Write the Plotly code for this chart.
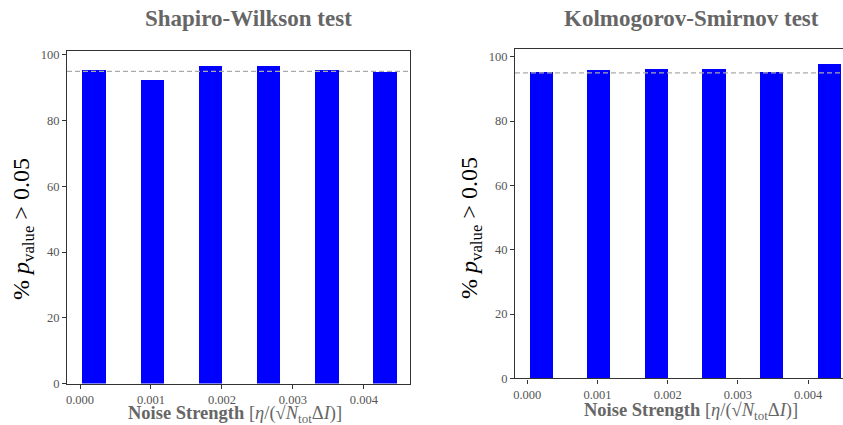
import plotly.graph_objects as go

# Noise strengths at which the normality tests were run
noise = [0.0002, 0.00102, 0.00184, 0.00266, 0.00348, 0.0043]
# Percentage of runs with p-value above 0.05
shapiro_pct = [95.5, 92.5, 96.5, 96.5, 95.5, 94.7]
kolmogorov_pct = [95.4, 96.0, 96.3, 96.3, 95.4, 97.6]
threshold = 95
xticks = [0.000, 0.001, 0.002, 0.003, 0.004]
xtick_text = ["0.000", "0.001", "0.002", "0.003", "0.004"]
yticks = [0, 20, 40, 60, 80, 100]

BAR_W = 0.00033
SERIF = "Liberation Serif, Times New Roman, serif"
GRAY = "#666666"

fig = go.Figure()
fig.add_trace(go.Bar(x=noise, y=shapiro_pct, width=BAR_W, marker=dict(color="#0000ff", line=dict(width=0)),
                     xaxis="x", yaxis="y", showlegend=False))
fig.add_trace(go.Bar(x=noise, y=kolmogorov_pct, width=BAR_W, marker=dict(color="#0000ff", line=dict(width=0)),
                     xaxis="x2", yaxis="y2", showlegend=False))

for xa, ya in (("x", "y"), ("x2", "y2")):
    fig.add_shape(type="line", xref=xa + " domain", yref=ya, x0=0, x1=1, y0=threshold, y1=threshold,
                  line=dict(color="#aaaaaa", width=1.2, dash="5px,3px"), layer="above")

tick_font = dict(family=SERIF, size=12.5, color="#555555")
common_x = dict(tickmode="array", tickvals=xticks, ticktext=xtick_text, ticks="outside", ticklen=4,
                tickcolor="#333333", showgrid=False, zeroline=False, showline=True, linecolor="#333333",
                linewidth=1.2, tickfont=tick_font, automargin=False)
common_y = dict(tickmode="array", tickvals=yticks, ticks="outside", ticklen=4, tickcolor="#333333",
                showgrid=False, zeroline=False, showline=True, linecolor="#333333", linewidth=1.2,
                tickfont=tick_font, automargin=False)

fig.update_layout(
    width=843, height=425, margin=dict(l=0, r=0, t=0, b=0, autoexpand=False),
    paper_bgcolor="white", plot_bgcolor="white", bargap=0,
    xaxis=dict(domain=[0.0795, 0.4864], range=[-0.000183, 0.00465], mirror=True, anchor="y", **common_x),
    yaxis=dict(domain=[0.0976, 0.88], range=[0, 101.2], mirror=True, anchor="x", **common_y),
    xaxis2=dict(domain=[0.6109, 1.0], range=[-0.000175, 0.004497], mirror=True, anchor="y2", **common_x),
    yaxis2=dict(domain=[0.1096, 0.8847], range=[0, 102.4], mirror=False, anchor="x2", **common_y),
)

titles = [("Shapiro-Wilkson test", 248), ("Kolmogorov-Smirnov test", 691)]
for text, px in titles:
    fig.add_annotation(text="<b>%s</b>" % text, xref="paper", yref="paper", x=px / 843, y=1 - 19 / 425,
                       showarrow=False, xanchor="center", yanchor="middle",
                       font=dict(family=SERIF, size=23, color=GRAY))

xlabel = "<b>Noise Strength</b> [<i>η</i>/(√<i>N</i><sub>tot</sub>Δ<i>I</i>)]"
for px, py in ((235, 414), (691, 411)):
    fig.add_annotation(text=xlabel, xref="paper", yref="paper", x=px / 843, y=1 - py / 425,
                       showarrow=False, xanchor="center", yanchor="middle",
                       font=dict(family=SERIF, size=18.5, color=GRAY))

ylabel = "% <i>p</i><sub>value</sub> > 0.05"
for px, py in ((23, 229), (471, 228)):
    fig.add_annotation(text=ylabel, xref="paper", yref="paper", x=px / 843, y=1 - py / 425,
                       showarrow=False, xanchor="center", yanchor="middle", textangle=-90,
                       font=dict(family=SERIF, size=24, color="black"))

fig.write_html("out.html")
